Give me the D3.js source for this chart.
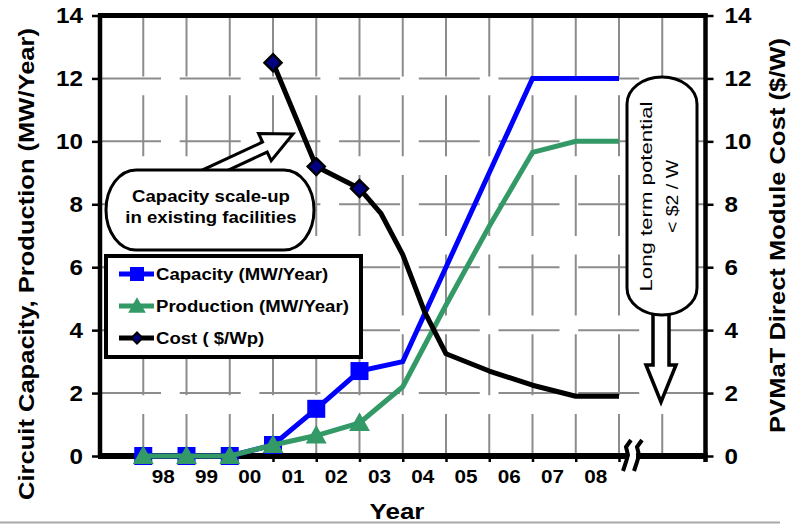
<!DOCTYPE html>
<html>
<head>
<meta charset="utf-8">
<script src="https://cdn.jsdelivr.net/npm/d3@7"></script>
<style>
  body { margin: 0; background: #fff; }
  text { font-family: "Liberation Sans", Arial, sans-serif; }
</style>
</head>
<body>
<script>
// --- data ---
const yearLabels = ["98", "99", "00", "01", "02", "03", "04", "05", "06", "07", "08"];
const pointYears = [1998, 1999, 2000, 2001, 2002, 2003, 2004, 2005, 2006, 2007, 2008, 2009];
const capacity = [0, 0, 0, 0.35, 1.5, 2.7, 3.0, 6.0, 9.0, 12, 12, 12];
const production = [0, 0, 0, 0.35, 0.65, 1.05, 2.2, 4.8, 7.3, 9.65, 10, 10];
const costYears = [2001, 2002, 2003, 2003.5, 2004, 2004.5, 2005, 2006, 2007, 2008, 2009];
const cost = [12.5, 9.2, 8.5, 7.7, 6.4, 4.6, 3.25, 2.7, 2.25, 1.9, 1.9];
const lastMarkerYear = 2003;
const yTicks = [0, 2, 4, 6, 8, 10, 12, 14];

const W = 792, H = 524;
const BLUE = "#0000ff", GREEN = "#339966", NAVY = "#000080";
const FONT = '"Liberation Sans", Arial, sans-serif';

const x = d3.scaleLinear().domain([1997, 2011]).range([100, 705.5]);
const y = d3.scaleLinear().domain([0, 14]).range([456, 15.5]);
const [x0, x1] = x.range();
const [yb, yt] = y.range();

const svg = d3.select("body").append("svg")
  .attr("width", W).attr("height", H)
  .style("display", "block");

// make text a bit wider, like the original rendering
const stretch = (sel, k) => sel.each(function () {
  const len = this.getComputedTextLength();
  d3.select(this).attr("textLength", len * k).attr("lengthAdjust", "spacingAndGlyphs");
});

// gridlines (dashed grey)
const grid = svg.append("g").attr("stroke", "#8c8c8c").attr("stroke-width", 2)
  .attr("stroke-dasharray", "61 18.7");
grid.selectAll(".hgrid")
  .data(yTicks.filter(d => d > 0 && d < 14))
  .enter().append("line")
    .attr("class", "hgrid")
    .attr("x1", x0).attr("x2", x1)
    .attr("y1", d => y(d)).attr("y2", d => y(d));
grid.selectAll(".vgrid")
  .data(d3.range(1998, 2011))
  .enter().append("line")
    .attr("class", "vgrid")
    .attr("x1", d => x(d)).attr("x2", d => x(d))
    .attr("y1", yt).attr("y2", yb);

// axes
const styleAxis = (g, size) => {
  g.select(".domain").remove();
  g.attr("font-family", FONT).attr("font-size", size);
  g.selectAll("line").attr("stroke", "#000").attr("stroke-width", 2.5);
  g.selectAll("text").attr("fill", "#000").attr("font-weight", "bold");
};
svg.append("g")
  .attr("transform", `translate(${x0},0)`)
  .call(d3.axisLeft(y).tickValues(yTicks).tickSize(8).tickSizeOuter(0).tickPadding(9))
  .call(g => styleAxis(g, 22))
  .call(g => stretch(g.selectAll("text"), 1.1));
svg.append("g")
  .attr("transform", `translate(${x1},0)`)
  .call(d3.axisRight(y).tickValues(yTicks).tickSize(8).tickSizeOuter(0).tickPadding(11))
  .call(g => styleAxis(g, 22))
  .call(g => stretch(g.selectAll("text"), 1.1));
svg.append("g")
  .attr("transform", `translate(0,${yb})`)
  .call(d3.axisBottom(x).tickValues(d3.range(1998, 2010)).tickSize(6).tickSizeOuter(0).tickFormat(""))
  .call(g => styleAxis(g, 18));
svg.append("g")
  .attr("transform", `translate(-2,${yb})`)
  .call(d3.axisBottom(x)
    .tickValues(yearLabels.map((d, i) => pointYears[i] + 0.5))
    .tickSize(0).tickPadding(14)
    .tickFormat((d, i) => yearLabels[i]))
  .call(g => styleAxis(g, 18))
  .call(g => stretch(g.selectAll("text"), 1.15));

// frame
const frame = svg.append("g").attr("stroke", "#000");
frame.append("line").attr("x1", x0 - 2).attr("x2", x1 + 2).attr("y1", yt).attr("y2", yt).attr("stroke-width", 5);
frame.append("line").attr("x1", x0).attr("x2", x0).attr("y1", yt - 2).attr("y2", yb + 2).attr("stroke-width", 4.5);
frame.append("line").attr("x1", x1).attr("x2", x1).attr("y1", yt - 2).attr("y2", yb + 6).attr("stroke-width", 4.5);
frame.append("line").attr("x1", x0 - 2).attr("x2", x1 + 2).attr("y1", yb).attr("y2", yb).attr("stroke-width", 6);

// axis break
const brk = svg.append("g");
brk.append("rect").attr("x", 629).attr("y", yb - 6).attr("width", 7).attr("height", 12).attr("fill", "#fff");
[627, 638].forEach(cx => {
  brk.append("polyline")
    .attr("points", [[cx + 4, yb - 16], [cx - 1, yb - 9], [cx + 1, yb - 1], [cx - 1, yb + 6], [cx - 4, yb + 15]].join(" "))
    .attr("fill", "none").attr("stroke", "#000").attr("stroke-width", 4);
});

// series
const line = d3.line().x(d => x(d[0])).y(d => y(d[1]));
const capPts = pointYears.map((d, i) => [d, capacity[i]]);
const prodPts = pointYears.map((d, i) => [d, production[i]]);
const costPts = costYears.map((d, i) => [d, cost[i]]);

const sq = d3.symbol().type(d3.symbolSquare);
const tri = s => `M0,${-s * 0.55}L${s * 0.55},${s * 0.42}L${-s * 0.55},${s * 0.42}Z`;
const dia = s => `M0,${-s / 2}L${s / 2},0L0,${s / 2}L${-s / 2},0Z`;

svg.append("path").datum(capPts).attr("d", line)
  .attr("fill", "none").attr("stroke", BLUE).attr("stroke-width", 5);
svg.selectAll(".cap-mark").data(capPts.filter(d => d[0] <= lastMarkerYear))
  .enter().append("path").attr("class", "cap-mark")
    .attr("d", sq.size(18 * 18)())
    .attr("transform", d => `translate(${x(d[0])},${y(d[1])})`)
    .attr("fill", BLUE);

svg.append("path").datum(prodPts).attr("d", line)
  .attr("fill", "none").attr("stroke", GREEN).attr("stroke-width", 5);
svg.selectAll(".prod-mark").data(prodPts.filter(d => d[0] <= lastMarkerYear))
  .enter().append("path").attr("class", "prod-mark")
    .attr("d", tri(19))
    .attr("transform", d => `translate(${x(d[0])},${y(d[1])})`)
    .attr("fill", GREEN);

svg.append("path").datum(costPts).attr("d", line)
  .attr("fill", "none").attr("stroke", "#000").attr("stroke-width", 5)
  .attr("stroke-linejoin", "round");
svg.selectAll(".cost-mark").data(costPts.filter(d => d[0] <= lastMarkerYear))
  .enter().append("path").attr("class", "cost-mark")
    .attr("d", dia(17))
    .attr("transform", d => `translate(${x(d[0])},${y(d[1])})`)
    .attr("fill", NAVY).attr("stroke", "#000").attr("stroke-width", 2.5);

// legend
const legend = svg.append("g").attr("transform", "translate(106,256)");
legend.append("rect").attr("width", 255).attr("height", 101)
  .attr("fill", "#fff").attr("stroke", "#000").attr("stroke-width", 4);
const legendItems = [
  { label: "Capacity (MW/Year)", color: BLUE, mark: sq.size(14 * 14)(), fill: BLUE, stroke: "none" },
  { label: "Production (MW/Year)", color: GREEN, mark: tri(16), fill: GREEN, stroke: "none" },
  { label: "Cost ( $/Wp)", color: "#000", mark: dia(11), fill: NAVY, stroke: "#000" }
];
const rows = legend.selectAll(".row").data(legendItems).enter().append("g")
  .attr("class", "row")
  .attr("transform", (d, i) => `translate(0,${18 + i * 32})`);
rows.append("line").attr("x1", 13).attr("x2", 48).attr("stroke", d => d.color).attr("stroke-width", 5);
rows.append("path").attr("d", d => d.mark).attr("transform", "translate(31,0)")
  .attr("fill", d => d.fill).attr("stroke", d => d.stroke).attr("stroke-width", 2);
rows.append("text").attr("x", 50).attr("y", 6)
  .attr("font-size", 16).attr("font-weight", "bold").text(d => d.label)
  .call(s => stretch(s, 1.16));

// callout: capacity scale-up
const arrow = (tip, dir, shaftLen, headLen, shaftW, headW) => {
  const [ux, uy] = dir;
  const nx = -uy, ny = ux;
  const hb = [tip[0] - ux * headLen, tip[1] - uy * headLen];
  const sb = [hb[0] - ux * shaftLen, hb[1] - uy * shaftLen];
  const p = (b, w) => [b[0] + nx * w, b[1] + ny * w];
  return [p(sb, shaftW), p(hb, shaftW), p(hb, headW), tip, p(hb, -headW), p(hb, -shaftW), p(sb, -shaftW)];
};
const ang = Math.atan2(-13, 28);
svg.append("polygon")
  .attr("points", arrow([293, 134], [Math.cos(ang), Math.sin(ang)], 70, 31, 5.5, 15).join(" "))
  .attr("fill", "#fff").attr("stroke", "#000").attr("stroke-width", 3).attr("stroke-linejoin", "miter");
svg.append("rect").attr("x", 106).attr("y", 170).attr("width", 208).attr("height", 80)
  .attr("rx", 30).attr("ry", 40)
  .attr("fill", "#fff").attr("stroke", "#000").attr("stroke-width", 3);
svg.append("g").selectAll("text").data(["Capacity scale-up", "in existing facilities"])
  .enter().append("text")
    .attr("x", 211).attr("y", (d, i) => 202 + i * 21)
    .attr("text-anchor", "middle").attr("font-size", 16).attr("font-weight", "bold")
    .text(d => d)
    .call(s => stretch(s, 1.16));

// callout: long term potential
svg.append("polygon")
  .attr("points", arrow([661, 402], [0, 1], 70, 37, 8, 15).join(" "))
  .attr("fill", "#fff").attr("stroke", "#000").attr("stroke-width", 3.5);
svg.append("rect").attr("x", 627).attr("y", 77).attr("width", 70).attr("height", 238)
  .attr("rx", 35).attr("ry", 27)
  .attr("fill", "#fff").attr("stroke", "#000").attr("stroke-width", 3);
svg.append("text").attr("transform", "translate(652,196.5) rotate(-90)")
  .attr("text-anchor", "middle").attr("font-size", 17)
  .attr("textLength", 190).attr("lengthAdjust", "spacingAndGlyphs")
  .text("Long term potential");
svg.append("text").attr("transform", "translate(678,196.5) rotate(-90)")
  .attr("text-anchor", "middle").attr("font-size", 17)
  .attr("textLength", 73).attr("lengthAdjust", "spacingAndGlyphs")
  .text("< $2 / W");

// axis titles
svg.append("text").attr("transform", "translate(34,264) rotate(-90)")
  .attr("text-anchor", "middle").attr("font-size", 22).attr("font-weight", "bold")
  .attr("textLength", 472).attr("lengthAdjust", "spacingAndGlyphs")
  .text("Circuit Capacity, Production (MW/Year)");
svg.append("text").attr("transform", "translate(785,235.5) rotate(-90)")
  .attr("text-anchor", "middle").attr("font-size", 22).attr("font-weight", "bold")
  .attr("textLength", 395).attr("lengthAdjust", "spacingAndGlyphs")
  .text("PVMaT Direct Module Cost ($/W)");

svg.append("text")
  .attr("x", 397).attr("y", 519).attr("text-anchor", "middle")
  .attr("font-size", 22).attr("font-weight", "bold")
  .attr("textLength", 55).attr("lengthAdjust", "spacingAndGlyphs")
  .text("Year");

// grey bottom edge of the scanned figure
svg.append("line").attr("x1", 0).attr("x2", 780).attr("y1", 522.5).attr("y2", 522.5)
  .attr("stroke", "#a8a8a8").attr("stroke-width", 2);
</script>
</body>
</html>
